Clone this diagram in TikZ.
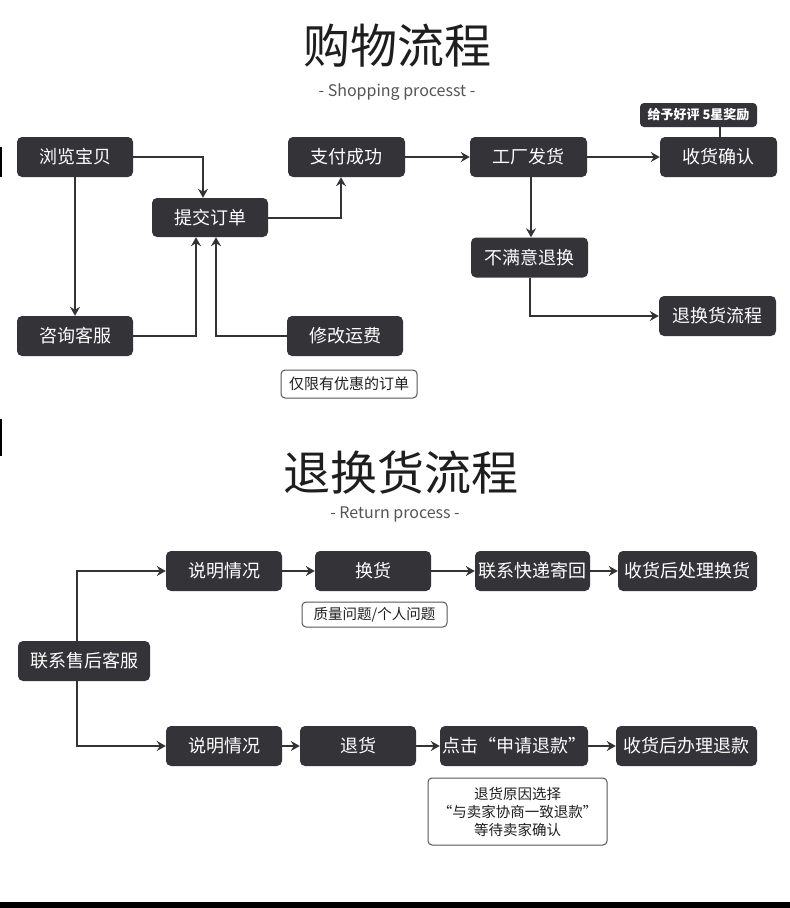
\documentclass[tikz,border=0pt]{standalone}
\usepackage{fontspec}
\setmainfont{Noto Sans CJK SC}
\usetikzlibrary{arrows.meta}
\definecolor{boxc}{HTML}{333338}
\definecolor{linec}{HTML}{333336}
\definecolor{titlec}{HTML}{1E1E1E}
\definecolor{subc}{HTML}{555555}
\tikzset{
  dbox/.style={draw=none, fill=boxc, rounded corners=5pt, text=white, inner sep=0pt,
    minimum height=40pt, font=\fontsize{18}{21}\selectfont},
  nbox/.style={draw=subc, line width=1pt, fill=white, rounded corners=4pt, text=titlec, inner sep=0pt,
    font=\fontsize{14.5}{18}\selectfont, align=center},
  arr/.style={draw=linec, line width=2pt, -{Stealth[length=9pt,width=10pt,inset=3pt]}},
  ln/.style={draw=linec, line width=2pt},
}
\begin{document}
\begin{tikzpicture}[x=1pt,y=-1pt]
\useasboundingbox (0,0) rectangle (790,908);
\fill[white] (0,0) rectangle (790,908);
% edge marks and bottom bar
\fill[black] (0,147) rectangle (2,177);
\fill[black] (0,419) rectangle (2,456);
\fill[black] (0,902) rectangle (790,908);
% titles
\node[text=titlec, font=\fontsize{47}{50}\selectfont] (t1) at (397,46) {购物流程};
\node[text=subc, font=\fontsize{16}{18}\selectfont] (s1) at (397,92) {- Shopping processt -};
\node[text=titlec, font=\fontsize{47}{50}\selectfont] (t2) at (401,473) {退换货流程};
\node[text=subc, font=\fontsize{16}{18}\selectfont] (s2) at (395,514) {- Return process -};
% shopping flow
\node[dbox, minimum width=116pt] (browse) at (75,157) {浏览宝贝};
\node[dbox, minimum width=116pt, minimum height=39pt] (submit) at (210,217.5) {提交订单};
\node[dbox, minimum width=117pt] (pay) at (346.5,157) {支付成功};
\node[dbox, minimum width=116pt] (consult) at (75,336) {咨询客服};
\node[dbox, minimum width=116pt] (modify) at (345,336) {修改运费};
\node[nbox, minimum width=136pt, minimum height=28pt, font=\fontsize{15}{18}\selectfont] (only) at (349,384) {仅限有优惠的订单};
\node[dbox, minimum width=117pt] (ship) at (528.5,157) {工厂发货};
\node[dbox, minimum width=117pt] (confirm) at (718.5,157) {收货确认};
\node[dbox, minimum width=117pt, minimum height=24pt, rounded corners=4pt, font=\fontsize{13}{15}\selectfont\bfseries] (rate) at (698.5,115) {给予好评 5星奖励};
\node[dbox, minimum width=117pt] (unsat) at (529.5,257.5) {不满意退换};
\node[dbox, minimum width=117pt] (rflow) at (717.5,316) {退换货流程};
\draw[arr] (browse.east) -| ([xshift=-7pt]submit.north);
\draw[arr] (browse.south) -- (consult.north);
\draw[arr] (consult.east) -| ([xshift=-14pt]submit.south);
\draw[arr] (modify.west) -| ([xshift=6pt]submit.south);
\draw[arr] (submit.east) -| ([xshift=-5.5pt]pay.south);
\draw[arr] (pay.east) -- (ship.west);
\draw[arr] (ship.east) -- (confirm.west);
\draw[ln] ([xshift=21.5pt]rate.south) -- ([xshift=21.5pt]rate.south |- confirm.north);
\draw[arr] ([xshift=2.5pt]ship.south) -- ([xshift=2.5pt]ship.south |- unsat.north);
\draw[arr] (unsat.south) |- (rflow.west);
% return flow
\node[dbox, minimum width=132pt] (aftersale) at (84,661) {联系售后客服};
\node[dbox, minimum width=116pt] (ex1) at (224,571) {说明情况};
\node[dbox, minimum width=116pt] (ex2) at (373,571) {换货};
\node[dbox, minimum width=115pt] (ex3) at (532.5,571) {联系快递寄回};
\node[dbox, minimum width=139pt] (ex4) at (687.5,571) {收货后处理换货};
\node[nbox, minimum width=145pt, minimum height=25pt] (exnote) at (374.5,614.5) {质量问题/个人问题};
\node[dbox, minimum width=116pt] (rf1) at (224,746) {说明情况};
\node[dbox, minimum width=116pt] (rf2) at (358,746) {退货};
\node[dbox, minimum width=148pt] (rf3) at (514,746) {点击“申请退款”};
\node[dbox, minimum width=141pt] (rf4) at (686.5,746) {收货后办理退款};
\node[nbox, minimum width=179pt, minimum height=67pt] (rfnote) at (517.5,811.5) {退货原因选择\\“与卖家协商一致退款”\\等待卖家确认};
\draw[arr] ([xshift=-7pt]aftersale.north) |- (ex1.west);
\draw[arr] ([xshift=-7pt]aftersale.south) |- (rf1.west);
\draw[arr] (ex1.east) -- (ex2.west);
\draw[arr] (ex2.east) -- (ex3.west);
\draw[arr] (ex3.east) -- (ex4.west);
\draw[arr] (rf1.east) -- (rf2.west);
\draw[arr] (rf2.east) -- (rf3.west);
\draw[arr] (rf3.east) -- (rf4.west);
\end{tikzpicture}
\end{document}
